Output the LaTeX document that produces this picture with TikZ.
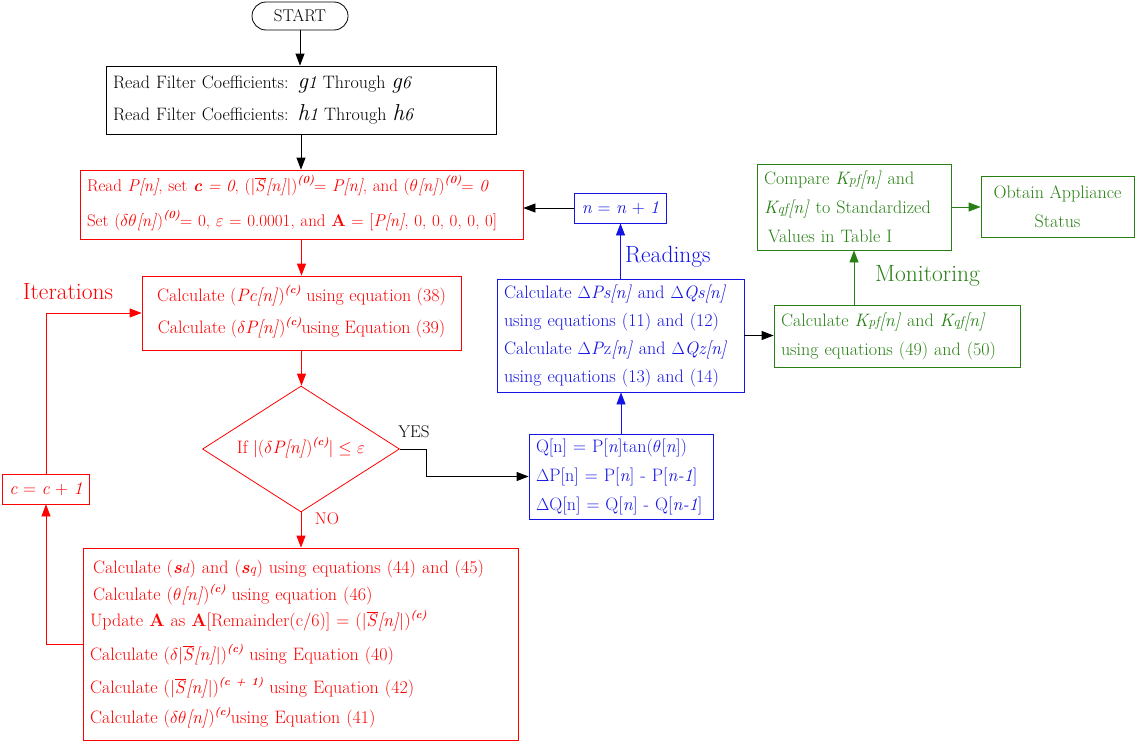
\documentclass[tikz,border=0pt]{standalone}
\usepackage{fontspec}
\usetikzlibrary{shapes.geometric,arrows.meta}
\definecolor{myred}{RGB}{255,0,0}
\definecolor{myblue}{RGB}{20,20,230}
\definecolor{mygreen}{RGB}{40,128,20}
\newcommand{\mysup}[1]{\smash{\raisebox{8pt}{\fontsize{11}{11}\selectfont\textbf{\textit{(#1)}}}}}
\newcommand{\Sbar}{\ensuremath{\overline{\mbox{\textit{S}}}}}
\newcommand{\glyphbig}[1]{{\fontsize{23}{23}\selectfont\textit{#1}}}
\newcommand{\sm}[1]{{\fontsize{14}{14}\selectfont #1}}
\tikzset{
  bx/.style={draw, rectangle, line width=0.8pt, inner xsep=7pt, inner ysep=0pt, align=left},
  lh/.style={font=\fontsize{18}{#1}\selectfont},
  rbx/.style={bx, draw=myred, text=myred},
  bbx/.style={bx, draw=myblue, text=myblue},
  gbx/.style={bx, draw=mygreen, text=mygreen},
  kbx/.style={bx, draw=black, text=black},
  lbl/.style={font=\fontsize{23.5}{28}\selectfont, inner sep=0pt},
  arr/.style={-{Triangle[length=12pt,width=9pt]}, line width=0.8pt},
}
\begin{document}
\begin{tikzpicture}[x=1pt,y=-1pt]
\fill[white] (0,0) rectangle (1147,744);
\useasboundingbox (0,0) rectangle (1147,744);

% left column
\node[kbx, rounded corners=14pt, minimum width=96pt, minimum height=28pt, align=center, font=\fontsize{17}{20}\selectfont] (start) at (300,16) {START};

\node[kbx, lh=32, minimum width=390pt, minimum height=68pt, text width=376pt] (b1) at (301,100)
 {\mbox{Read Filter Coefficients: \textit{\glyphbig{g}1} Through \textit{\glyphbig{g}6}}\\
  \mbox{Read Filter Coefficients: \textit{\glyphbig{h}1} Through \textit{\glyphbig{h}6}}};

\node[rbx, font=\fontsize{17}{35}\selectfont, minimum width=443pt, minimum height=69pt, text width=429pt] (b2) at (301.5,204.5)
 {\mbox{Read \textit{P[n]}, set \textbf{\textit{c}} \textit{= 0}, ($|$\Sbar\textit{[n]}$|$)\mysup{0}= \textit{P[n]}, and ($\theta$\textit{[n]})\mysup{0}= \textit{0}}\\
  \mbox{Set ($\delta\theta$\textit{[n]})\mysup{0}= 0, $\varepsilon$ = 0.0001, and \textbf{A} = [\textit{P[n]}, 0, 0, 0, 0, 0]}};

\node[rbx, lh=32, minimum width=319pt, minimum height=74pt, align=center] (b3) at (301.5,313)
 {Calculate (\textit{Pc[n]})\mysup{c} using equation (38)\\
  Calculate ($\delta$\textit{P[n]})\mysup{c}using Equation (39)};

\node[draw=myred, text=myred, diamond, aspect=1.56, minimum width=197pt, minimum height=126pt, inner sep=0pt, line width=0.8pt, font=\fontsize{18}{22}\selectfont] (dia) at (301,449)
 {If $|$($\delta$\textit{P[n]})\mysup{c}$|\leq$ $\varepsilon$};

\node[rbx, lh=30, minimum width=435pt, minimum height=192pt, text width=421pt] (bot) at (300.5,644)
 {\hspace*{3pt}Calculate (\textbf{\textit{s}}\sm{\textit{d}}) and (\textbf{\textit{s}}\sm{\textit{q}}) using equations (44) and (45)\\[-3pt]
  \hspace*{3pt}Calculate ($\theta$\textit{[n]})\mysup{c} using equation (46)\\[-4pt]
  Update \textbf{A} as \textbf{A}[Remainder(c/6)] = ($|$\Sbar\textit{[n]}$|$)\mysup{c}\\[4pt]
  Calculate ($\delta|$\Sbar\textit{[n]}$|$)\mysup{c} using Equation (40)\\[3pt]
  Calculate ($|$\Sbar\textit{[n]}$|$)\mysup{c + 1} using Equation (42)\\
  Calculate ($\delta\theta$\textit{[n]})\mysup{c}using Equation (41)};

\node[rbx, minimum width=76pt, minimum height=30pt, align=center, lh=22] (cb) at (46,489) {\textit{c} = \textit{c} + \textit{1}};

% blue column
\node[bbx, minimum width=73pt, minimum height=30pt, align=center, lh=22] (nb) at (620.5,208) {\textit{n} = \textit{n} + \textit{1}};

\node[bbx, lh=28, minimum width=247pt, minimum height=113pt, text width=233pt] (bb) at (620.5,335.5)
 {Calculate $\Delta$\textit{Ps[n]} and $\Delta$\textit{Qs[n]}\\
  using equations (11) and (12)\\
  Calculate $\Delta$\textit{P}z\textit{[n]} and $\Delta$\textit{Qz[n]}\\
  using equations (13) and (14)};

\node[bbx, lh=29, minimum width=184pt, minimum height=85pt, text width=170pt] (qb) at (621,476.5)
 {Q[n] = P[\textit{n}]tan($\theta$[\textit{n}])\\
  $\Delta$P[n] = P[\textit{n}] - P[\textit{n-1}]\\
  $\Delta$Q[n] = Q[\textit{n}] - Q[\textit{n-1}]};

% green column
\node[gbx, lh=29, minimum width=246pt, minimum height=62pt, text width=232pt] (gc) at (897,336)
 {Calculate \textit{K\sm{pf}[n]} and \textit{K\sm{qf}[n]}\\
  using equations (49) and (50)};

\node[gbx, lh=29, minimum width=194pt, minimum height=86pt, text width=180pt] (cmp) at (854,207)
 {Compare \textit{K\sm{pf}[n]} and\\
  \textit{K\sm{qf}[n]} to Standardized\\
  \hspace*{4pt}Values in Table I};

\node[gbx, lh=29, minimum width=153pt, minimum height=61pt, align=center] (obt) at (1057.5,206.5)
 {Obtain Appliance\\Status};

% labels
\node[lbl, text=myred] (iter) at (68,292) {Iterations};
\node[lbl, text=myblue, anchor=west] (read) at (625,257) {Readings};
\node[lbl, text=mygreen, anchor=west] (mon) at (875,276) {Monitoring};
\node[font=\fontsize{17}{20}\selectfont, inner sep=0pt] (yes) at (414,432) {YES};
\node[font=\fontsize{17}{20}\selectfont, inner sep=0pt, text=myred] (no) at (327,519) {NO};

% connectors
\draw[arr] (start.south) -- (start.south |- b1.north);
\draw[arr] (b1.south) -- (b1.south |- b2.north);
\draw[arr, myred] (b2.south) -- (b2.south |- b3.north);
\draw[arr, myred] (b3.south) -- (b3.south |- dia.north);
\draw[arr, myred] (dia.south) -- (dia.south |- bot.north);
\draw[arr, myred] (bot.west) -| (cb.south);
\draw[arr, myred] (cb.north) |- (b3.west);
\draw[arr] (dia.east) -- ++(26,0) |- (qb.west);
\draw[arr, myblue] (qb.north) -- (qb.north |- bb.south);
\draw[arr, myblue] (bb.north) -- (bb.north |- nb.south);
\draw[arr] (nb.west) -- (nb.west -| b2.east);
\draw[arr] (bb.east) -- (bb.east -| gc.west);
\draw[arr, mygreen] (gc.north -| cmp.south) -- (cmp.south);
\draw[arr, mygreen] (cmp.east) -- (cmp.east -| obt.west);
\end{tikzpicture}
\end{document}
